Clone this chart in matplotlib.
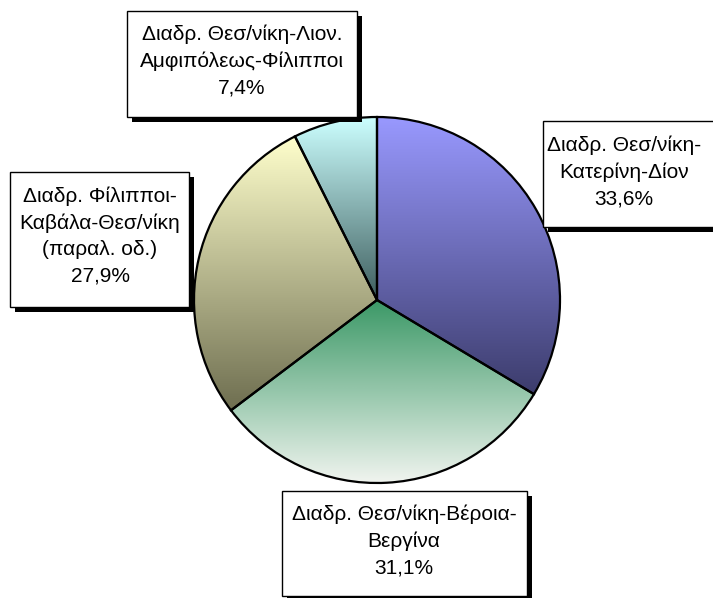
import numpy as np
import matplotlib
matplotlib.use("Agg")
import matplotlib.pyplot as plt
from matplotlib.colors import LinearSegmentedColormap
from matplotlib.patches import Rectangle

plt.rcParams['font.family'] = ['Liberation Sans', 'DejaVu Sans']

# data
labels = [
    "Διαδρ. Θεσ/νίκη-\nΚατερίνη-Δίον",
    "Διαδρ. Θεσ/νίκη-Βέροια-\nΒεργίνα",
    "Διαδρ. Φίλιπποι-\nΚαβάλα-Θεσ/νίκη\n(παραλ. οδ.)",
    "Διαδρ. Θεσ/νίκη-Λιον.\nΑμφιπόλεως-Φίλιπποι",
]
shares = [33.6, 31.1, 27.9, 7.4]
pct_text = ["33,6%", "31,1%", "27,9%", "7,4%"]

# gradient colours (top -> bottom) for each slice
grad_top = ["#9999ff", "#3a9866", "#ffffcc", "#ccffff"]
grad_bot = ["#3c3c6c", "#f2f5f0", "#6e6e50", "#3e5e5e"]

# label boxes in pixel coords: left, top, right, bottom
boxes = [
    (543, 121, 722, 227),
    (282, 491, 527, 596),
    (10, 172, 189, 307),
    (127, 11, 357, 117),
]

W, H = 713, 598
fig = plt.figure(figsize=(W / 100, H / 100), dpi=100)
ax = fig.add_axes([0, 0, 1, 1])

cx, cy, r = 377, H - 300, 183
wedges, _ = ax.pie(shares, startangle=90, counterclock=False,
                   center=(cx, cy), radius=r,
                   wedgeprops=dict(edgecolor="black", linewidth=1.6))

# vertical gradient fill clipped to each slice
for w, c0, c1 in zip(wedges, grad_top, grad_bot):
    w.set_facecolor("none")
    verts = w.get_patch_transform().transform(w.get_path().vertices)
    x0, x1 = verts[:, 0].min(), verts[:, 0].max()
    y0, y1 = verts[:, 1].min(), verts[:, 1].max()
    cmap = LinearSegmentedColormap.from_list("g", [c1, c0])
    grad = np.linspace(0, 1, 256).reshape(-1, 1)
    im = ax.imshow(grad, cmap=cmap, origin="lower", aspect="auto",
                   extent=(x0, x1, y0, y1), zorder=0.5, interpolation="bicubic")
    im.set_clip_path(w)
    w.set_zorder(1)

# label boxes with drop shadow
for (l, t, rr, b) in boxes:
    ax.add_patch(Rectangle((l + 5, H - b - 5), rr - l, b - t,
                           facecolor="black", edgecolor="none", zorder=3))
    ax.add_patch(Rectangle((l, H - b), rr - l, b - t,
                           facecolor="white", edgecolor="black", lw=1, zorder=4))

text_pos = [(624, 172), (404, 541), (100, 236), (242, 61)]
for (tx, ty), lab, pc in zip(text_pos, labels, pct_text):
    ax.text(tx, H - ty, lab + "\n" + pc, ha="center", va="center",
            fontsize=15, linespacing=1.5, zorder=5)

ax.set_xlim(0, W)
ax.set_ylim(0, H)
ax.set_aspect("auto")
ax.axis("off")

fig.savefig("out.png", dpi=100)
